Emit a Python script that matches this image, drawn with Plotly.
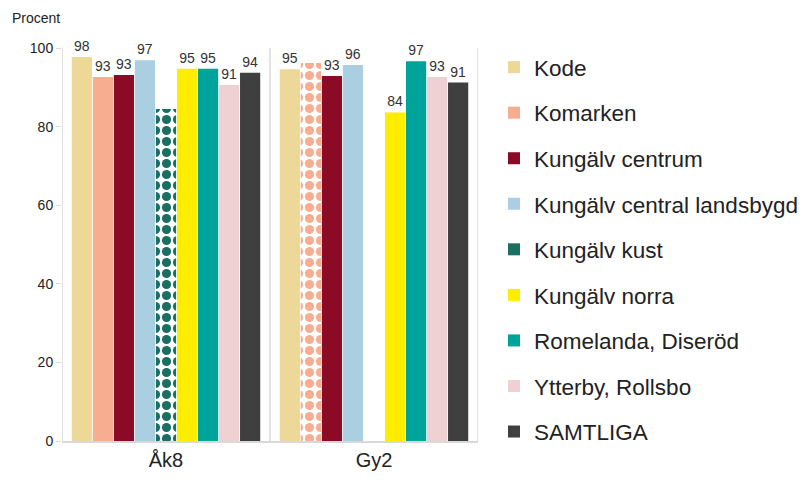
import plotly.graph_objects as go

categories = ["Åk8", "Gy2"]
series_names = ["Kode", "Komarken", "Kungälv centrum", "Kungälv central landsbygd",
                "Kungälv kust", "Kungälv norra", "Romelanda, Diseröd",
                "Ytterby, Rollsbo", "SAMTLIGA"]
colors = ["#EDD898", "#F7AE90", "#8B0A26", "#AACFE1", "#1A6E62", "#FFED00",
          "#00A39A", "#EFD1D3", "#3F3F3F"]
values = {
    "Kode": [97.7, 94.6],
    "Komarken": [92.6, 96.2],
    "Kungälv centrum": [93.1, 92.9],
    "Kungälv central landsbygd": [96.9, 95.7],
    "Kungälv kust": [84.5, None],
    "Kungälv norra": [94.7, 83.6],
    "Romelanda, Diseröd": [94.7, 96.6],
    "Ytterby, Rollsbo": [90.6, 92.6],
    "SAMTLIGA": [93.7, 91.2],
}
# bars based on few answers: drawn with pattern, no label
low_base = {
    "Komarken": [False, True],
    "Kungälv kust": [True, False],
}

fig = go.Figure()
for name, col in zip(series_names, colors):
    vals = values[name]
    lb = low_base.get(name, [False, False])
    texts = ["" if (v is None or l) else f"{v:.0f}" for v, l in zip(vals, lb)]
    shapes = ["." if l else "" for l in lb]
    first_patterned = lb[0]
    fig.add_trace(go.Bar(
        name=name, x=categories, y=vals, text=texts, textposition="outside",
        textfont=dict(size=14, color="#333333"),
        cliponaxis=False,
        legendgroup=name, offsetgroup=name,
        showlegend=not first_patterned,
        marker=dict(color=col, line=dict(width=0),
                    pattern=dict(shape=shapes, fgcolor=col, bgcolor="white",
                                 size=11, solidity=0.55, fillmode="replace")),
    ))
    if first_patterned:
        # legend-only entry with solid swatch, sharing the same bar slot
        fig.add_trace(go.Bar(name=name, x=categories, y=[None, None],
                             legendgroup=name, offsetgroup=name, showlegend=True,
                             marker=dict(color=col, line=dict(width=0))))

for xv in [-0.5, 0.5, 1.5]:
    fig.add_shape(type="line", xref="x", yref="y", x0=xv, x1=xv, y0=0, y1=100,
                  line=dict(color="#D9D9D9", width=1.5), layer="below")

fig.add_annotation(text="Procent", xref="paper", yref="paper", x=(10 - 62) / 416,
                   y=(441 - 18) / 393,
                   xanchor="left", yanchor="middle", showarrow=False,
                   font=dict(size=14, color="#222222"))

fig.update_layout(
    width=803, height=483,
    margin=dict(l=62, r=325, t=48, b=42, autoexpand=False),
    paper_bgcolor="white", plot_bgcolor="white",
    font=dict(family="Liberation Sans, Arial, sans-serif", color="#222222"),
    barmode="group", bargap=0.09, bargroupgap=0.04,
    showlegend=True,
    legend=dict(x=494/803, xref="container", xanchor="left",
                y=1 - 46/483, yref="container", yanchor="top",
                font=dict(size=22.5, color="#222222"),
                tracegroupgap=13.3, traceorder="grouped", maxheight=1.0),
    xaxis=dict(range=[-0.5, 1.5], showline=True, linecolor="#D9D9D9", linewidth=1.5,
               ticks="", tickfont=dict(size=20, color="#222222"), showgrid=False),
    yaxis=dict(range=[0, 100], dtick=20, showgrid=False, zeroline=False,
               showline=False, ticks="outside", ticklen=5, tickcolor="#D9D9D9",
               tickfont=dict(size=14, color="#222222")),
)

fig.write_html("out.html", config={"displayModeBar": False},
               post_script="document.body.style.margin='0';")
